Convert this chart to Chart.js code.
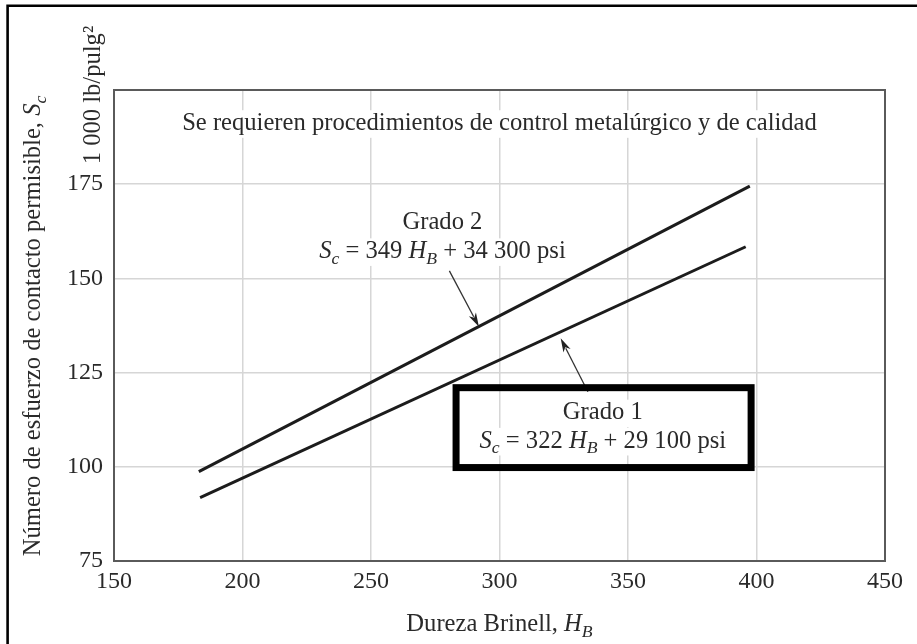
<!DOCTYPE html>
<html>
<head>
<meta charset="utf-8">
<script src="https://cdn.jsdelivr.net/npm/chart.js@4.4.1/dist/chart.umd.min.js"></script>
<style>
  html, body { margin: 0; padding: 0; background: #fff; }
  canvas { display: block; }
</style>
</head>
<body>
<canvas id="chart" width="917" height="644"></canvas>
<script>
// Allowable contact stress number (1000 lb/pulg²) vs. Brinell hardness, end points of each line
const grade2Hardness = [183, 397.4];
const grade2Stress = [98.7, 174.5];
const grade1Hardness = [183.5, 395.8];
const grade1Stress = [91.8, 158.4];

// Axis ticks
const xTicks = [150, 200, 250, 300, 350, 400, 450];
const yTicks = [75, 100, 125, 150, 175, 200];
const yTickLabels = ['75', '100', '125', '150', '175', ''];

const FONT = '"Liberation Serif", "Times New Roman", serif';
const TEXT = '#2a2a2a';
const LABEL_SIZE = 24.6;

// Annotation placement, in axis units
const notes = {
  heading: { x: 300, y: 189.4 },
  grade2: { x: 277.8, y1: 163.1, y2: 155.4, arrowFrom: [280.5, 152.0], arrowTo: [292.0, 137.2] },
  grade1: { x: 340.2, y1: 112.6, y2: 105.1, arrowFrom: [334.4, 119.9], arrowTo: [323.8, 134.1],
            box: [283.1, 121.0, 397.9, 99.8] }
};

function toPoints(xs, ys) { return xs.map((x, i) => ({ x: x, y: ys[i] })); }

function fontFor(part, size) {
  const sz = part.s ? size * 0.72 : size;
  return (part.i ? 'italic ' : '') + sz.toFixed(1) + 'px ' + FONT;
}
function richWidth(ctx, parts, size) {
  let w = 0;
  parts.forEach(p => { ctx.font = fontFor(p, size); w += ctx.measureText(p.t).width; });
  return w;
}
// Draws mixed italic / subscript text with its centre at x on the baseline y
function drawRich(ctx, parts, x, y, size, bg) {
  const w = richWidth(ctx, parts, size);
  let cx = x - w / 2;
  if (bg) {
    ctx.fillStyle = '#fff';
    ctx.fillRect(cx - 4, y - size * 0.8, w + 8, size * 1.12);
  }
  ctx.fillStyle = TEXT;
  ctx.textBaseline = 'alphabetic';
  ctx.textAlign = 'left';
  parts.forEach(p => {
    ctx.font = fontFor(p, size);
    const dy = p.s === 'sub' ? size * 0.24 : 0;
    ctx.fillText(p.t, cx, y + dy);
    cx += ctx.measureText(p.t).width;
  });
}

function arrow(ctx, x0, y0, x1, y1) {
  const ang = Math.atan2(y1 - y0, x1 - x0);
  const len = 14, hw = 4;
  const c = Math.cos(ang), s = Math.sin(ang);
  ctx.strokeStyle = '#333';
  ctx.lineWidth = 1.3;
  ctx.beginPath();
  ctx.moveTo(x0, y0);
  ctx.lineTo(x1 - c * len * 0.8, y1 - s * len * 0.8);
  ctx.stroke();
  ctx.fillStyle = '#222';
  ctx.beginPath();
  ctx.moveTo(x1, y1);
  ctx.lineTo(x1 - c * len - s * hw, y1 - s * len + c * hw);
  ctx.lineTo(x1 - c * len * 0.72, y1 - s * len * 0.72);
  ctx.lineTo(x1 - c * len + s * hw, y1 - s * len - c * hw);
  ctx.closePath();
  ctx.fill();
}

const decorations = {
  id: 'decorations',
  afterDatasetsDraw(chart) {
    const ctx = chart.ctx;
    const xs = chart.scales.x, ys = chart.scales.y;
    const px = v => xs.getPixelForValue(v), py = v => ys.getPixelForValue(v);
    const area = chart.chartArea;
    ctx.save();

    // Heading inside the plot
    drawRich(ctx, [{ t: 'Se requieren procedimientos de control metalúrgico y de calidad' }],
      px(notes.heading.x), py(notes.heading.y), LABEL_SIZE, true);

    // Grade 2 label and arrow
    const g2 = notes.grade2;
    drawRich(ctx, [{ t: 'Grado 2' }], px(g2.x), py(g2.y1), LABEL_SIZE, true);
    drawRich(ctx, [{ t: 'S', i: true }, { t: 'c', i: true, s: 'sub' }, { t: ' = 349 ' },
      { t: 'H', i: true }, { t: 'B', i: true, s: 'sub' }, { t: ' + 34 300 psi' }],
      px(g2.x), py(g2.y2), LABEL_SIZE, true);
    arrow(ctx, px(g2.arrowFrom[0]), py(g2.arrowFrom[1]), px(g2.arrowTo[0]), py(g2.arrowTo[1]));

    // Grade 1 boxed label and arrow
    const g1 = notes.grade1;
    arrow(ctx, px(g1.arrowFrom[0]), py(g1.arrowFrom[1]), px(g1.arrowTo[0]), py(g1.arrowTo[1]));
    drawRich(ctx, [{ t: 'Grado 1' }], px(g1.x), py(g1.y1), LABEL_SIZE, true);
    drawRich(ctx, [{ t: 'S', i: true }, { t: 'c', i: true, s: 'sub' }, { t: ' = 322 ' },
      { t: 'H', i: true }, { t: 'B', i: true, s: 'sub' }, { t: ' + 29 100 psi' }],
      px(g1.x), py(g1.y2), LABEL_SIZE, true);
    const b = g1.box;
    ctx.strokeStyle = '#000';
    ctx.lineWidth = 7;
    ctx.strokeRect(px(b[0]), py(b[1]), px(b[2]) - px(b[0]), py(b[3]) - py(b[1]));

    // Plot border
    ctx.strokeStyle = '#5a5a5a';
    ctx.lineWidth = 2;
    ctx.strokeRect(area.left, area.top, area.right - area.left, area.bottom - area.top);

    // Axis titles
    drawRich(ctx, [{ t: 'Dureza Brinell, ' }, { t: 'H', i: true }, { t: 'B', i: true, s: 'sub' }],
      (area.left + area.right) / 2, 631, LABEL_SIZE, false);

    ctx.save();
    ctx.translate(40, 326);
    ctx.rotate(-Math.PI / 2);
    drawRich(ctx, [{ t: 'Número de esfuerzo de contacto permisible, ' }, { t: 'S', i: true },
      { t: 'c', i: true, s: 'sub' }], 0, 0, LABEL_SIZE, false);
    ctx.restore();

    ctx.save();
    ctx.translate(100, 95);
    ctx.rotate(-Math.PI / 2);
    drawRich(ctx, [{ t: '1 000 lb/pulg²' }], 0, 0, LABEL_SIZE, false);
    ctx.restore();

    // Outer frame
    ctx.strokeStyle = '#000';
    ctx.lineWidth = 2.6;
    ctx.beginPath();
    ctx.moveTo(7.6, 644);
    ctx.lineTo(7.6, 5.8);
    ctx.lineTo(917, 5.8);
    ctx.stroke();

    ctx.restore();
  }
};

const lineStyle = { borderColor: '#1c1c1c', borderWidth: 3, pointRadius: 0, showLine: true, fill: false, tension: 0 };

new Chart(document.getElementById('chart'), {
  type: 'scatter',
  data: {
    datasets: [
      Object.assign({ label: 'Grado 2', data: toPoints(grade2Hardness, grade2Stress) }, lineStyle),
      Object.assign({ label: 'Grado 1', data: toPoints(grade1Hardness, grade1Stress) }, lineStyle)
    ]
  },
  options: {
    responsive: false,
    animation: false,
    devicePixelRatio: 1,
    layout: { padding: { left: 54, right: 32, top: 90, bottom: 43 } },
    plugins: { legend: { display: false }, tooltip: { enabled: false } },
    scales: {
      x: {
        type: 'linear', min: 150, max: 450,
        afterBuildTicks: s => { s.ticks = xTicks.map(v => ({ value: v })); },
        afterFit: s => { s.height = 40; },
        grid: { color: '#d6d6d6', lineWidth: 1.5, drawTicks: false },
        border: { display: false },
        ticks: { font: { family: FONT, size: 24 }, color: TEXT, padding: 6, maxRotation: 0, autoSkip: false }
      },
      y: {
        type: 'linear', min: 75, max: 200,
        afterBuildTicks: s => { s.ticks = yTicks.map(v => ({ value: v })); },
        afterFit: s => { s.width = 60; },
        grid: { color: '#d6d6d6', lineWidth: 1.5, drawTicks: false },
        border: { display: false },
        ticks: {
          font: { family: FONT, size: 24 }, color: TEXT, padding: 11, autoSkip: false,
          callback: v => yTickLabels[yTicks.indexOf(v)]
        }
      }
    }
  },
  plugins: [decorations]
});
</script>
</body>
</html>
